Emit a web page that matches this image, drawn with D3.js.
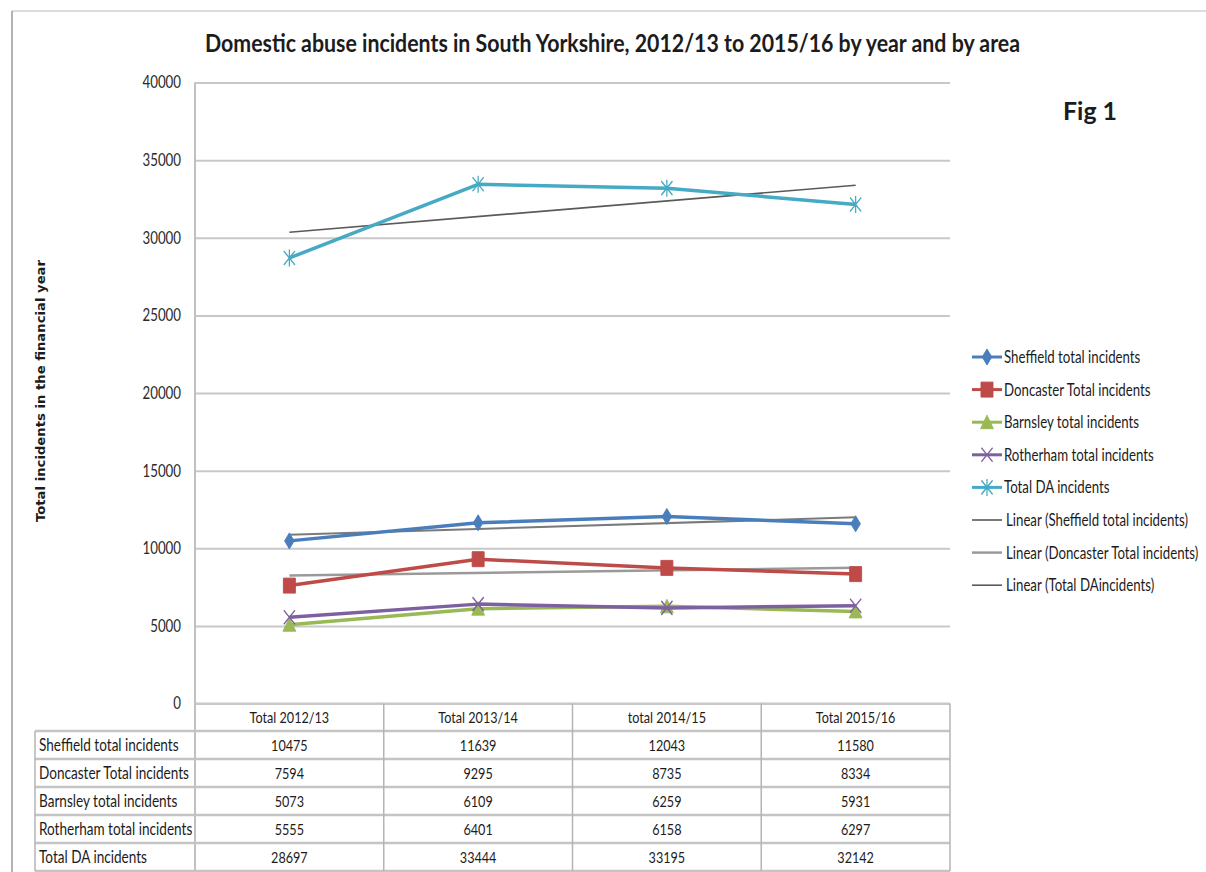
<!DOCTYPE html>
<html>
<head>
<meta charset="utf-8">
<script src="https://d3js.org/d3.v7.min.js"></script>
<style>
  body { margin: 0; background: #fff; }
  svg { display: block; }
  text { font-family: Lato, "Open Sans", sans-serif; fill: #1c1c1c; }
</style>
</head>
<body>
<script>

const categories = ["Total 2012/13", "Total 2013/14", "total 2014/15", "Total 2015/16"];
const sheffield = [10475, 11639, 12043, 11580];
const doncaster = [7594, 9295, 8735, 8334];
const barnsley  = [5073, 6109, 6259, 5931];
const rotherham = [5555, 6401, 6158, 6297];
const totalDA   = [28697, 33444, 33195, 32142];
const seriesNames = ["Sheffield total incidents", "Doncaster Total incidents", "Barnsley total incidents",
                     "Rotherham total incidents", "Total DA incidents"];
const trendNames = ["Linear (Sheffield total incidents)", "Linear (Doncaster Total incidents)", "Linear (Total DAincidents)"];
const yTicks = [0, 5000, 10000, 15000, 20000, 25000, 30000, 35000, 40000];

const series = [
	{name: seriesNames[0], values: sheffield, color: "#4a7ebb", marker: "diamond"},
	{name: seriesNames[1], values: doncaster, color: "#be4b48", marker: "square"},
	{name: seriesNames[2], values: barnsley,  color: "#98b954", marker: "triangle"},
	{name: seriesNames[3], values: rotherham, color: "#7d60a0", marker: "x"},
	{name: seriesNames[4], values: totalDA,   color: "#46aac5", marker: "star"}
];
const trends = [
	{name: trendNames[0], values: sheffield, color: "#7a7a7a", width: 2},
	{name: trendNames[1], values: doncaster, color: "#9a9a9a", width: 2.5},
	{name: trendNames[2], values: totalDA,   color: "#5a5a5a", width: 1.6}
];

const W = 1206, H = 872;
const SQ = 0.78;          // the picture is squeezed sideways, so is its text
const plotL = 195, plotR = 950, plotT = 82.5, plotB = 703.5;

var xScale = d3.scaleBand().domain(categories).range([plotL, plotR]);
var yScale = d3.scaleLinear().domain([0, 40000]).range([plotB, plotT]);
const cx = c => xScale(c) + xScale.bandwidth() / 2;

var svg = d3.select("body").append("svg")
	.attr("width", W)
	.attr("height", H);

function label(g, x, y, str, size, anchor, weight) {
	return g.append("text")
		.attr("transform", "translate(" + x + "," + y + ") scale(" + SQ + ",1)")
		.attr("text-anchor", anchor || "start")
		.attr("dy", "0.35em")
		.style("font-size", size + "px")
		.style("font-weight", weight || "normal")
		.text(str);
}

function markerPath(type) {
	if (type === "diamond")  return "M0,-8L6,0L0,8L-6,0Z";
	if (type === "square")   return "M-7.5,-7.5h15v15h-15Z";
	if (type === "triangle") return "M0,-7L8,6.5L-8,6.5Z";
	if (type === "x")        return "M-7,-7L7,7M-7,7L7,-7";
	return "M-7,-7L7,7M-7,7L7,-7M0,-8.5L0,8.5";
}

function drawMarker(g, x, y, s) {
	var open = (s.marker === "x" || s.marker === "star");
	g.append("path")
		.attr("d", markerPath(s.marker))
		.attr("transform", "translate(" + x + "," + y + ") scale(0.8,1)")
		.attr("fill", open ? "none" : s.color)
		.attr("stroke", s.color)
		.attr("stroke-width", open ? 1.6 : 1);
}

// outer frame
svg.append("line").attr("x1", 12).attr("x2", W).attr("y1", 11).attr("y2", 11)
	.attr("stroke", "#dcdcdc").attr("stroke-width", 2);
svg.append("line").attr("x1", 12).attr("x2", 12).attr("y1", 11).attr("y2", H)
	.attr("stroke", "#9a9a9a").attr("stroke-width", 1.5);

// title
svg.append("text")
	.attr("x", 205).attr("y", 52)
	.attr("textLength", 815).attr("lengthAdjust", "spacingAndGlyphs")
	.style("font-size", "24px").style("font-weight", "bold")
	.text("Domestic abuse incidents in South Yorkshire, 2012/13 to 2015/16 by year and by area");

svg.append("text")
	.attr("x", 1063).attr("y", 120)
	.attr("textLength", 54).attr("lengthAdjust", "spacingAndGlyphs")
	.style("font-size", "24px").style("font-weight", "bold")
	.text("Fig 1");

// gridlines + y axis
var yAxis = d3.axisLeft(yScale).tickValues(yTicks).tickSize(-(plotR - plotL)).tickFormat("");
svg.append("g")
	.attr("transform", "translate(" + plotL + ",0)")
	.call(yAxis)
	.call(g => g.select(".domain").remove())
	.call(g => g.selectAll(".tick line").attr("stroke", "#c8c8c8").attr("stroke-width", 2));
svg.append("line").attr("x1", plotL).attr("x2", plotL).attr("y1", plotT).attr("y2", H)
	.attr("stroke", "#c0c0c0").attr("stroke-width", 2);

var yLabels = svg.append("g");
yTicks.forEach(t => label(yLabels, 181, yScale(t), t, 17, "end").style("fill", "#2a2a2a"));

svg.append("text")
	.attr("transform", "translate(45,391) rotate(-90)")
	.attr("text-anchor", "middle")
	.attr("textLength", 262).attr("lengthAdjust", "spacingAndGlyphs")
	.style("font-family", "'DejaVu Sans', Verdana, sans-serif")
	.style("font-size", "12.5px").style("font-weight", "bold")
	.text("Total incidents in the financial year");

// series lines and markers
var line = d3.line().x((d, i) => cx(categories[i])).y(d => yScale(d));
var plot = svg.append("g");

// linear trendlines (least squares, x = 1..4 like Excel)
trends.forEach(t => {
	var xs = t.values.map((d, i) => i + 1);
	var mx = d3.mean(xs), my = d3.mean(t.values);
	var slope = d3.sum(xs, (x, i) => (x - mx) * (t.values[i] - my)) / d3.sum(xs, x => (x - mx) * (x - mx));
	var first = my + slope * (1 - mx), last = my + slope * (4 - mx);
	plot.append("line")
		.attr("x1", cx(categories[0])).attr("y1", yScale(first))
		.attr("x2", cx(categories[3])).attr("y2", yScale(last))
		.attr("stroke", t.color)
		.attr("stroke-width", t.width);
});

series.forEach(s => {
	plot.append("path")
		.attr("d", line(s.values))
		.attr("fill", "none")
		.attr("stroke", s.color)
		.attr("stroke-width", 3.5)
		.attr("stroke-linejoin", "round");
	s.values.forEach((v, i) => drawMarker(plot, cx(categories[i]), yScale(v), s));
});

// legend
var legend = svg.append("g");
var legY = 357, legStep = 32.6;
series.forEach((s, i) => {
	var y = legY + i * legStep;
	legend.append("line").attr("x1", 972).attr("x2", 1002).attr("y1", y).attr("y2", y)
		.attr("stroke", s.color).attr("stroke-width", 3);
	drawMarker(legend, 987, y, s);
	label(legend, 1004, y, s.name, 17);
});
trends.forEach((t, i) => {
	var y = legY + (series.length + i) * legStep;
	legend.append("line").attr("x1", 972).attr("x2", 1002).attr("y1", y).attr("y2", y)
		.attr("stroke", t.color).attr("stroke-width", t.width);
	label(legend, 1006, y, t.name, 17);
});

// data table
var table = svg.append("g");
const tblL = 35, rowH = 28, headTop = plotB, firstRow = 731;
const gridColor = "#b4b4b4";
categories.forEach(c => label(table, cx(c), (headTop + firstRow) / 2, c, 16.2, "middle"));
for (var r = 0; r <= series.length; r++) {
	table.append("line")
		.attr("x1", tblL).attr("x2", plotR)
		.attr("y1", firstRow + r * rowH).attr("y2", firstRow + r * rowH)
		.attr("stroke", "#c4c4c4").attr("stroke-width", 2.5);
}
table.append("line").attr("x1", plotL).attr("x2", plotR).attr("y1", headTop).attr("y2", headTop)
	.attr("stroke", "#c8c8c8").attr("stroke-width", 2);
table.append("line").attr("x1", tblL).attr("x2", tblL).attr("y1", firstRow).attr("y2", firstRow + 5 * rowH)
	.attr("stroke", gridColor).attr("stroke-width", 1.5);
categories.forEach(c => {
	var x = xScale(c) + xScale.bandwidth();
	table.append("line").attr("x1", x).attr("x2", x).attr("y1", headTop).attr("y2", firstRow + 5 * rowH)
		.attr("stroke", gridColor).attr("stroke-width", 1.5);
});
series.forEach((s, r) => {
	var y = firstRow + r * rowH + rowH / 2;
	label(table, 39, y, s.name, 17.4);
	s.values.forEach((v, i) => label(table, cx(categories[i]), y, v, 16.2, "middle"));
});

</script>
</body>
</html>
